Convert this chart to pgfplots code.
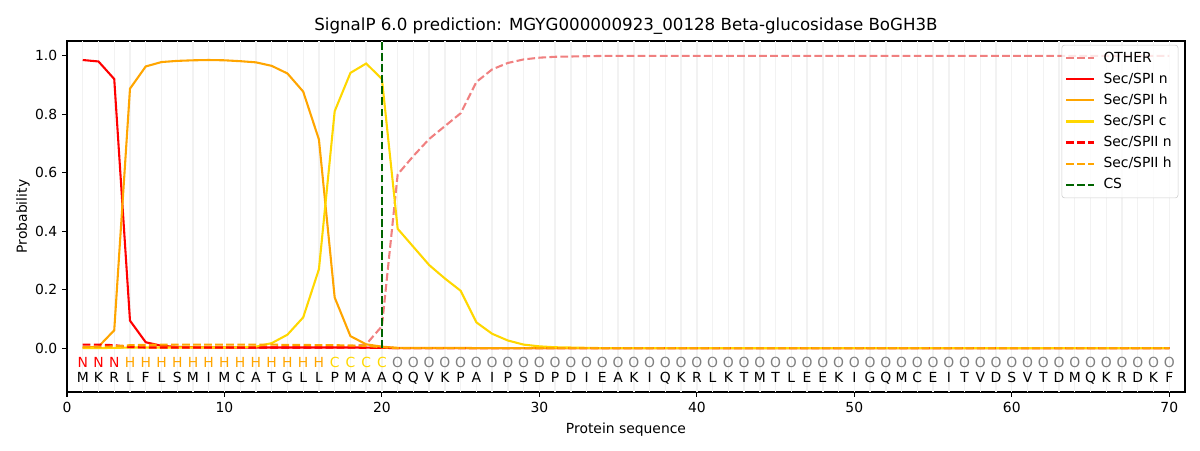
\documentclass[border=0pt]{standalone}
\usepackage{pgfplots}
\pgfplotsset{compat=1.18}
\usepackage{pgfplotstable}
\usepackage{fontspec}
\setmainfont{DejaVu Sans}
\definecolor{lcoral}{HTML}{F08080}
\definecolor{orng}{HTML}{FFA500}
\definecolor{gld}{HTML}{FFD700}
\definecolor{dgreen}{HTML}{006400}
\definecolor{ogray}{HTML}{808080}

\pgfplotstableread{
x other spin spih spic spiin spiih
1 0.002 0.985 0.001 0.000 0.012 0.003
2 0.002 0.980 0.005 0.000 0.012 0.004
3 0.002 0.920 0.061 0.001 0.010 0.006
4 0.002 0.094 0.887 0.002 0.004 0.010
5 0.002 0.020 0.963 0.002 0.002 0.011
6 0.001 0.008 0.978 0.002 0.002 0.012
7 0.001 0.004 0.982 0.002 0.002 0.012
8 0.001 0.003 0.984 0.002 0.002 0.012
9 0.001 0.002 0.985 0.002 0.002 0.012
10 0.001 0.002 0.984 0.002 0.002 0.012
11 0.001 0.002 0.981 0.003 0.002 0.012
12 0.001 0.002 0.977 0.005 0.002 0.012
13 0.001 0.002 0.965 0.017 0.002 0.012
14 0.001 0.002 0.939 0.046 0.002 0.011
15 0.001 0.002 0.877 0.105 0.002 0.011
16 0.002 0.002 0.713 0.270 0.002 0.010
17 0.003 0.002 0.173 0.810 0.002 0.010
18 0.006 0.002 0.041 0.941 0.002 0.009
19 0.013 0.002 0.013 0.973 0.001 0.008
20 0.075 0.001 0.005 0.920 0.001 0.003
21 0.594 0.000 0.001 0.408 0.000 0.000
22 0.657 0.000 0.001 0.346 0.000 0.000
23 0.715 0.000 0.001 0.284 0.000 0.000
24 0.759 0.000 0.001 0.238 0.000 0.000
25 0.803 0.000 0.001 0.196 0.000 0.000
26 0.910 0.000 0.000 0.088 0.000 0.000
27 0.953 0.000 0.000 0.049 0.000 0.000
28 0.975 0.000 0.000 0.026 0.000 0.000
29 0.987 0.000 0.000 0.012 0.000 0.000
30 0.993 0.000 0.000 0.006 0.000 0.000
31 0.996 0.000 0.000 0.003 0.000 0.000
32 0.997 0.000 0.000 0.002 0.000 0.000
33 0.998 0.000 0.000 0.001 0.000 0.000
34 0.999 0.000 0.000 0.000 0.000 0.000
35 0.999 0.000 0.000 0.000 0.000 0.000
36 0.999 0.000 0.000 0.000 0.000 0.000
37 0.999 0.000 0.000 0.000 0.000 0.000
38 0.999 0.000 0.000 0.000 0.000 0.000
39 0.999 0.000 0.000 0.000 0.000 0.000
40 0.999 0.000 0.000 0.000 0.000 0.000
41 0.999 0.000 0.000 0.000 0.000 0.000
42 0.999 0.000 0.000 0.000 0.000 0.000
43 0.999 0.000 0.000 0.000 0.000 0.000
44 0.999 0.000 0.000 0.000 0.000 0.000
45 0.999 0.000 0.000 0.000 0.000 0.000
46 0.999 0.000 0.000 0.000 0.000 0.000
47 0.999 0.000 0.000 0.000 0.000 0.000
48 0.999 0.000 0.000 0.000 0.000 0.000
49 0.999 0.000 0.000 0.000 0.000 0.000
50 0.999 0.000 0.000 0.000 0.000 0.000
51 0.999 0.000 0.000 0.000 0.000 0.000
52 0.999 0.000 0.000 0.000 0.000 0.000
53 0.999 0.000 0.000 0.000 0.000 0.000
54 0.999 0.000 0.000 0.000 0.000 0.000
55 0.999 0.000 0.000 0.000 0.000 0.000
56 0.999 0.000 0.000 0.000 0.000 0.000
57 0.999 0.000 0.000 0.000 0.000 0.000
58 0.999 0.000 0.000 0.000 0.000 0.000
59 0.999 0.000 0.000 0.000 0.000 0.000
60 0.999 0.000 0.000 0.000 0.000 0.000
61 0.999 0.000 0.000 0.000 0.000 0.000
62 0.999 0.000 0.000 0.000 0.000 0.000
63 0.999 0.000 0.000 0.000 0.000 0.000
64 0.999 0.000 0.000 0.000 0.000 0.000
65 0.999 0.000 0.000 0.000 0.000 0.000
66 0.999 0.000 0.000 0.000 0.000 0.000
67 0.999 0.000 0.000 0.000 0.000 0.000
68 0.999 0.000 0.000 0.000 0.000 0.000
69 0.999 0.000 0.000 0.000 0.000 0.000
70 0.999 0.000 0.000 0.000 0.000 0.000
}\probs

\pgfplotstableread{
x y lab
1 -0.067 N
2 -0.067 N
3 -0.067 N
}\labN
\pgfplotstableread{
x y lab
4 -0.067 H
5 -0.067 H
6 -0.067 H
7 -0.067 H
8 -0.067 H
9 -0.067 H
10 -0.067 H
11 -0.067 H
12 -0.067 H
13 -0.067 H
14 -0.067 H
15 -0.067 H
16 -0.067 H
}\labH
\pgfplotstableread{
x y lab
17 -0.067 C
18 -0.067 C
19 -0.067 C
20 -0.067 C
}\labC
\pgfplotstableread{
x y lab
21 -0.067 O
22 -0.067 O
23 -0.067 O
24 -0.067 O
25 -0.067 O
26 -0.067 O
27 -0.067 O
28 -0.067 O
29 -0.067 O
30 -0.067 O
31 -0.067 O
32 -0.067 O
33 -0.067 O
34 -0.067 O
35 -0.067 O
36 -0.067 O
37 -0.067 O
38 -0.067 O
39 -0.067 O
40 -0.067 O
41 -0.067 O
42 -0.067 O
43 -0.067 O
44 -0.067 O
45 -0.067 O
46 -0.067 O
47 -0.067 O
48 -0.067 O
49 -0.067 O
50 -0.067 O
51 -0.067 O
52 -0.067 O
53 -0.067 O
54 -0.067 O
55 -0.067 O
56 -0.067 O
57 -0.067 O
58 -0.067 O
59 -0.067 O
60 -0.067 O
61 -0.067 O
62 -0.067 O
63 -0.067 O
64 -0.067 O
65 -0.067 O
66 -0.067 O
67 -0.067 O
68 -0.067 O
69 -0.067 O
70 -0.067 O
}\labO
\pgfplotstableread{
x y lab
1 -0.118 M
2 -0.118 K
3 -0.118 R
4 -0.118 L
5 -0.118 F
6 -0.118 L
7 -0.118 S
8 -0.118 M
9 -0.118 I
10 -0.118 M
11 -0.118 C
12 -0.118 A
13 -0.118 T
14 -0.118 G
15 -0.118 L
16 -0.118 L
17 -0.118 P
18 -0.118 M
19 -0.118 A
20 -0.118 A
21 -0.118 Q
22 -0.118 Q
23 -0.118 V
24 -0.118 K
25 -0.118 P
26 -0.118 A
27 -0.118 I
28 -0.118 P
29 -0.118 S
30 -0.118 D
31 -0.118 P
32 -0.118 D
33 -0.118 I
34 -0.118 E
35 -0.118 A
36 -0.118 K
37 -0.118 I
38 -0.118 Q
39 -0.118 K
40 -0.118 R
41 -0.118 L
42 -0.118 K
43 -0.118 T
44 -0.118 M
45 -0.118 T
46 -0.118 L
47 -0.118 E
48 -0.118 E
49 -0.118 K
50 -0.118 I
51 -0.118 G
52 -0.118 Q
53 -0.118 M
54 -0.118 C
55 -0.118 E
56 -0.118 I
57 -0.118 T
58 -0.118 V
59 -0.118 D
60 -0.118 S
61 -0.118 V
62 -0.118 T
63 -0.118 D
64 -0.118 M
65 -0.118 Q
66 -0.118 K
67 -0.118 R
68 -0.118 D
69 -0.118 K
70 -0.118 F
}\labSeq

\begin{document}
\begin{tikzpicture}
\useasboundingbox (0,0) rectangle (864pt,324pt);
\begin{axis}[
  at={(48.24pt,41.76pt)}, anchor=south west,
  scale only axis, width=804.96pt, height=252.72pt,
  xmin=0, xmax=71, ymin=-0.15, ymax=1.05,
  xtick={0,10,...,70}, ytick={0,0.2,...,1.0},
  xtick pos=bottom, ytick pos=left,
  tick align=outside, major tick length=3.5pt,
  tick style={black, line width=0.8pt},
  axis line style={line width=0.8pt},
  /pgf/number format/assume math mode=true,
  yticklabel style={/pgf/number format/fixed, /pgf/number format/fixed zerofill, /pgf/number format/precision=1},
  ticklabel style={font=\fontsize{10}{12}\selectfont},
  extra x ticks={1,2,...,70}, extra x tick labels={},
  extra x tick style={major tick length=0pt, grid=major, major grid style={black!5, line width=1pt}},
  xlabel={Protein sequence}, ylabel={Probability},
  label style={font=\fontsize{10}{12}\selectfont},
  xlabel style={yshift=3pt},
  ylabel style={yshift=-3pt},
  title={SignalP 6.0 prediction: MGYG000000923\_00128 Beta-glucosidase BoGH3B},
  title style={font=\fontsize{12}{14}\selectfont, yshift=-4.5pt},
  legend cell align=left,
  legend image code/.code={\draw[#1] (0pt,0pt) -- (20pt,0pt);},
  legend style={at={(0.994,0.989)}, anchor=north east, font=\fontsize{10}{12}\selectfont,
    draw=black!20, rounded corners=2pt, fill=white, fill opacity=0.8, text opacity=1,
    row sep=2.2pt, inner xsep=2.5pt, inner ysep=3pt,
    /tikz/column 1/.style={column sep=4pt}},
  every axis plot/.append style={line width=1.5pt},
  dashsty/.style={dash pattern=on 5.55pt off 2.4pt},
]
\addplot[lcoral, dashsty] table[x=x, y=other] {\probs};
\addlegendentry{OTHER}
\addplot[red] table[x=x, y=spin] {\probs};
\addlegendentry{Sec/SPI n}
\addplot[orng] table[x=x, y=spih] {\probs};
\addlegendentry{Sec/SPI h}
\addplot[gld] table[x=x, y=spic] {\probs};
\addlegendentry{Sec/SPI c}
\addplot[red, dashsty] table[x=x, y=spiin] {\probs};
\addlegendentry{Sec/SPII n}
\addplot[orng, dashsty] table[x=x, y=spiih] {\probs};
\addlegendentry{Sec/SPII h}
\addplot[dgreen, dashsty] coordinates {(20,0) (20,1.05)};
\addlegendentry{CS}

\pgfplotsset{lblsty/.style={draw=none, mark=none, forget plot, nodes near coords, point meta=explicit symbolic,
   nodes near coords style={anchor=base, inner sep=0pt, font=\fontsize{10}{12}\selectfont, text=#1}}}
\addplot[lblsty=red] table[x=x, y=y, meta=lab] {\labN};
\addplot[lblsty=orng] table[x=x, y=y, meta=lab] {\labH};
\addplot[lblsty=gld] table[x=x, y=y, meta=lab] {\labC};
\addplot[lblsty=ogray] table[x=x, y=y, meta=lab] {\labO};
\addplot[lblsty=black] table[x=x, y=y, meta=lab] {\labSeq};
\end{axis}
\end{tikzpicture}
\end{document}
